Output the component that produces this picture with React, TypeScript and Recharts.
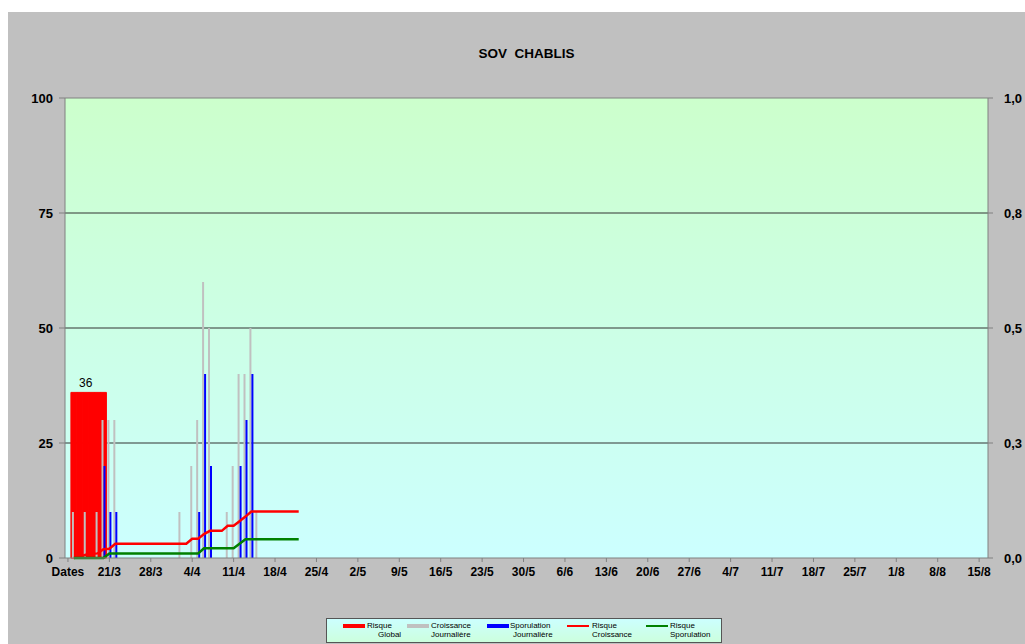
import React from 'react';
import {
  ComposedChart,
  Bar,
  Line,
  XAxis,
  YAxis,
  CartesianGrid,
  ReferenceLine,
  Legend,
  LabelList,
} from 'recharts';

// ---- Data ----
const dayCount = 156; // 14/3 .. 16/8, one category per day
const xTickLabels = [
  'Dates', '21/3', '28/3', '4/4', '11/4', '18/4', '25/4', '2/5', '9/5', '16/5', '23/5', '30/5',
  '6/6', '13/6', '20/6', '27/6', '4/7', '11/7', '18/7', '25/7', '1/8', '8/8', '15/8',
];
const leftTicks = [0, 25, 50, 75, 100];
const rightTicks = [0, 0.25, 0.5, 0.75, 1];
const rightTickLabels = ['0,0', '0,3', '0,5', '0,8', '1,0'];

const globalRiskDays = [1, 2, 3, 4, 5, 6];
const globalRiskValue = 36;
const globalRiskLabelDay = 3;

const growthDays = [1, 3, 5, 6, 7, 8, 19, 21, 22, 23, 24, 27, 28, 29, 30, 31, 32];
const growthValues = [10, 10, 10, 30, 30, 30, 10, 20, 30, 60, 50, 10, 20, 40, 40, 50, 10];

const sporDays = [6, 7, 8, 22, 23, 24, 29, 30, 31];
const sporValues = [20, 10, 10, 10, 40, 20, 20, 30, 40];

const lineStartDay = 1;
// Risque Croissance, days 1..39
const riskGrowthValues = [
  0, 0.003, 0.007, 0.009, 0.01, 0.019, 0.02, 0.031,
  0.031, 0.031, 0.031, 0.031, 0.031, 0.031, 0.031, 0.031, 0.031, 0.031, 0.031, 0.031,
  0.042, 0.042, 0.052, 0.059, 0.059, 0.059, 0.07, 0.07, 0.08, 0.09, 0.101,
  0.101, 0.101, 0.101, 0.101, 0.101, 0.101, 0.101, 0.101,
];
// Risque Sporulation, days 1..39
const riskSporValues = [
  0, 0, 0, 0, 0, 0,
  0.01, 0.01, 0.01, 0.01, 0.01, 0.01, 0.01, 0.01, 0.01, 0.01, 0.01, 0.01, 0.01, 0.01, 0.01, 0.01,
  0.021, 0.021, 0.021, 0.021, 0.021, 0.021,
  0.031, 0.041,
  0.041, 0.041, 0.041, 0.041, 0.041, 0.041, 0.041, 0.041, 0.041,
];

const legendItems = [
  { line1: 'Risque', line2: 'Global', color: '#FF0000', thick: true },
  { line1: 'Croissance', line2: 'Journalière', color: '#C0C0C0', thick: true },
  { line1: 'Sporulation', line2: 'Journalière', color: '#0000FF', thick: true },
  { line1: 'Risque', line2: 'Croissance', color: '#FF0000', thick: false },
  { line1: 'Risque', line2: 'Sporulation', color: '#008000', thick: false },
];

// ---- Build table ----
const rows = Array.from({ length: dayCount }, (_, day) => {
  const gi = growthDays.indexOf(day);
  const si = sporDays.indexOf(day);
  const li = day - lineStartDay;
  return {
    day,
    global: globalRiskDays.includes(day) ? globalRiskValue : null,
    globalLabel: day === globalRiskLabelDay ? globalRiskValue : undefined,
    growth: gi >= 0 ? growthValues[gi] : null,
    spor: si >= 0 ? sporValues[si] : null,
    riskGrowth: li >= 0 && li < riskGrowthValues.length ? riskGrowthValues[li] : null,
    riskSpor: li >= 0 && li < riskSporValues.length ? riskSporValues[li] : null,
  };
});

const FONT = '"Liberation Sans", Arial, sans-serif';
const xTick = { fontSize: 12, fontWeight: 'bold', fill: '#000', fontFamily: FONT };
const yTick = { fontSize: 13, fontWeight: 'bold', fill: '#000', fontFamily: FONT };

// legend layout (px within the legend box)
const legendSwatchX = [16, 80, 160, 240, 319];
const legendTextX = [40, 104, 183, 265, 343];
const legendLine2X = [51, 104, 186, 265, 343];

function LegendBox() {
  return (
    <div
      style={{
        position: 'relative',
        width: 396,
        height: 25,
        boxSizing: 'border-box',
        border: '1px solid #555',
        background: 'linear-gradient(#CCFFFF, #CCFFDD)',
        fontFamily: FONT,
        fontSize: 8,
        color: '#000',
      }}
    >
      {legendItems.map((it, i) => (
        <React.Fragment key={i}>
          <div
            style={{
              position: 'absolute',
              left: legendSwatchX[i],
              width: 22,
              top: it.thick ? 4.5 : 5.5,
              height: it.thick ? 4 : 2,
              background: it.color,
            }}
          />
          <div style={{ position: 'absolute', left: legendTextX[i], top: 1.5, lineHeight: '9px', whiteSpace: 'nowrap' }}>
            {it.line1}
          </div>
          <div style={{ position: 'absolute', left: legendLine2X[i], top: 10.5, lineHeight: '9px', whiteSpace: 'nowrap' }}>
            {it.line2}
          </div>
        </React.Fragment>
      ))}
    </div>
  );
}

export default function App() {
  return (
    <div
      style={{
        position: 'fixed',
        left: 8,
        top: 12,
        width: 1017,
        height: 632,
        background: '#C0C0C0',
        overflow: 'hidden',
        fontFamily: FONT,
      }}
    >
      <div
        style={{
          position: 'absolute',
          left: 57,
          width: 923,
          top: 34,
          lineHeight: '15px',
          textAlign: 'center',
          fontWeight: 'bold',
          fontSize: 13.5,
          whiteSpace: 'pre',
          color: '#000',
        }}
      >
        SOV  CHABLIS
      </div>
      <div style={{ position: 'absolute', left: 0, top: 0 }}>
        <ComposedChart
          width={1017}
          height={632}
          data={rows}
          margin={{ top: 86, right: 0, bottom: 0, left: 0 }}
          barGap={0}
          barCategoryGap={0}
        >
          <defs>
            <linearGradient id="plotBg" x1="0" y1="0" x2="0" y2="1">
              <stop offset="0" stopColor="#CCFFCC" />
              <stop offset="1" stopColor="#CCFFFF" />
            </linearGradient>
          </defs>
          <CartesianGrid
            xAxisId="main"
            yAxisId="left"
            vertical={false}
            horizontalValues={[25, 50, 75]}
            stroke="#333"
            fill="url(#plotBg)"
            fillOpacity={1}
          />
          <XAxis
            xAxisId="main"
            dataKey="day"
            type="category"
            interval={6}
            tickFormatter={(v: number) => xTickLabels[Math.round(v / 7)] ?? ''}
            tickSize={4}
            tickMargin={5}
            height={61}
            tick={xTick}
            axisLine={{ stroke: '#808080' }}
            tickLine={{ stroke: '#808080' }}
          />
          <XAxis xAxisId="global" dataKey="day" type="category" hide height={0} />
          <YAxis
            yAxisId="left"
            domain={[0, 100]}
            ticks={leftTicks}
            interval={0}
            width={57}
            tickSize={6}
            tickMargin={6}
            tick={yTick}
            axisLine={{ stroke: '#808080' }}
            tickLine={{ stroke: '#808080' }}
          />
          <YAxis
            yAxisId="right"
            orientation="right"
            domain={[0, 1]}
            ticks={rightTicks}
            interval={0}
            width={37}
            tickSize={5}
            tickMargin={11}
            tickFormatter={(_v: number, i: number) => rightTickLabels[i]}
            tick={{ ...yTick, textAnchor: 'start' }}
            axisLine={{ stroke: '#808080' }}
            tickLine={{ stroke: '#808080' }}
          />
          <ReferenceLine xAxisId="main" yAxisId="left" y={100} stroke="#808080" />
          <Bar
            xAxisId="global"
            yAxisId="left"
            dataKey="global"
            name="Risque Global"
            fill="#FF0000"
            stroke="#FF0000"
            strokeWidth={1}
            barSize={5.91}
            isAnimationActive={false}
          >
            <LabelList
              dataKey="globalLabel"
              position="top"
              offset={5}
              style={{ fontSize: 12, fill: '#000', stroke: 'none', fontFamily: FONT }}
            />
          </Bar>
          <Bar
            xAxisId="main"
            yAxisId="left"
            dataKey="growth"
            name="Croissance Journalière"
            fill="#C0C0C0"
            barSize={2}
            isAnimationActive={false}
          />
          <Bar
            xAxisId="main"
            yAxisId="left"
            dataKey="spor"
            name="Sporulation Journalière"
            fill="#0000FF"
            barSize={2}
            isAnimationActive={false}
          />
          <Line
            xAxisId="main"
            yAxisId="right"
            dataKey="riskGrowth"
            name="Risque Croissance"
            stroke="#FF0000"
            strokeWidth={2.5}
            dot={false}
            activeDot={false}
            isAnimationActive={false}
          />
          <Line
            xAxisId="main"
            yAxisId="right"
            dataKey="riskSpor"
            name="Risque Sporulation"
            stroke="#008000"
            strokeWidth={2.5}
            dot={false}
            activeDot={false}
            isAnimationActive={false}
          />
          <Legend
            verticalAlign="bottom"
            align="left"
            wrapperStyle={{ left: 318, bottom: 1, width: 396 }}
            content={() => <LegendBox />}
          />
        </ComposedChart>
      </div>
    </div>
  );
}
